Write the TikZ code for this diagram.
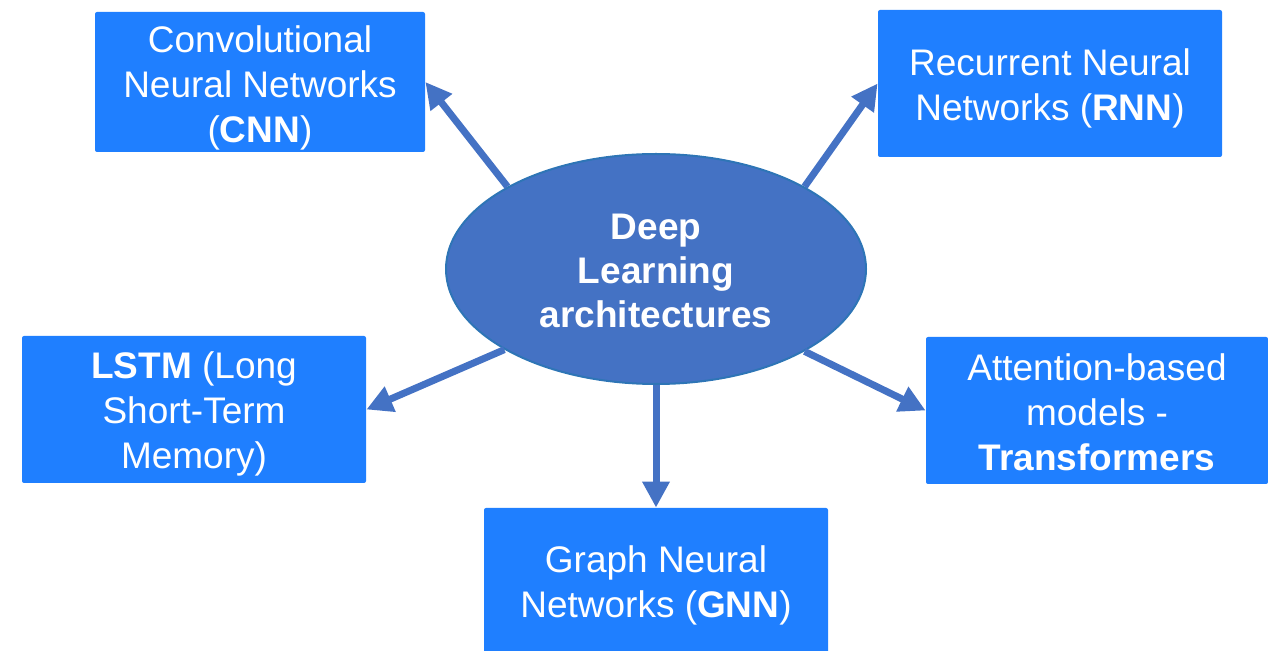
\documentclass[tikz,border=0pt]{standalone}
\usepackage{fontspec}
\setmainfont{Liberation Sans}
\usetikzlibrary{arrows.meta,shapes.geometric}
\definecolor{boxblue}{RGB}{31,127,255}
\definecolor{ellfill}{RGB}{68,114,196}
\definecolor{elledge}{RGB}{46,117,182}
\definecolor{arrblue}{RGB}{68,114,196}
\newcommand\liftline{\rule{0pt}{18pt}}
\tikzset{
  archbox/.style={fill=boxblue, text=white, rounded corners=1pt, inner sep=0pt,
    align=center, font=\fontsize{18.5}{22.5}\selectfont},
  center/.style={ellipse, fill=ellfill, draw=elledge, line width=1pt, inner sep=0pt,
    minimum width=210pt, minimum height=115pt, text=white, align=center,
    font=\fontsize{18.5}{22}\selectfont\bfseries},
  link/.style={draw=arrblue, line width=3.5pt,
    -{Triangle[length=13pt,width=13pt]}, shorten >=0pt}
}
\begin{document}
\begin{tikzpicture}[x=0.5pt,y=-0.5pt]
\useasboundingbox (0,0) rectangle (1268,651);
\node[archbox, minimum width=165pt, minimum height=70pt] (cnn) at (260,82)
  {\rule{0pt}{19pt}Convolutional\\Neural Networks\\(\textbf{CNN})};
\node[archbox, minimum width=172pt, minimum height=73.5pt] (rnn) at (1050,83.5)
  {\liftline Recurrent Neural\\Networks (\textbf{RNN})};
\node[archbox, minimum width=172pt, minimum height=73.5pt] (lstm) at (194,409.5)
  {\liftline\textbf{LSTM} (Long\\Short-Term\\Memory)};
\node[archbox, minimum width=171pt, minimum height=73.5pt] (att) at (1097,410.5)
  {\rule{0pt}{15pt}Attention-based\\models -\\\textbf{Transformers}};
\node[archbox, minimum width=172pt, minimum height=73.5pt] (gnn) at (656,581.5)
  {\rule{0pt}{17pt}Graph Neural\\Networks (\textbf{GNN})};
\node[center] (dl) at (656,269) {\rule{0pt}{15pt}Deep\\Learning\\architectures};
\draw[link] (dl.151) -- (cnn.east);
\draw[link] (dl.29) -- (rnn.west);
\draw[link] (dl.208.7) -- (lstm.east);
\draw[link] (dl.331.8) -- (att.west);
\draw[link] (dl.south) -- (gnn.north);
\end{tikzpicture}
\end{document}
